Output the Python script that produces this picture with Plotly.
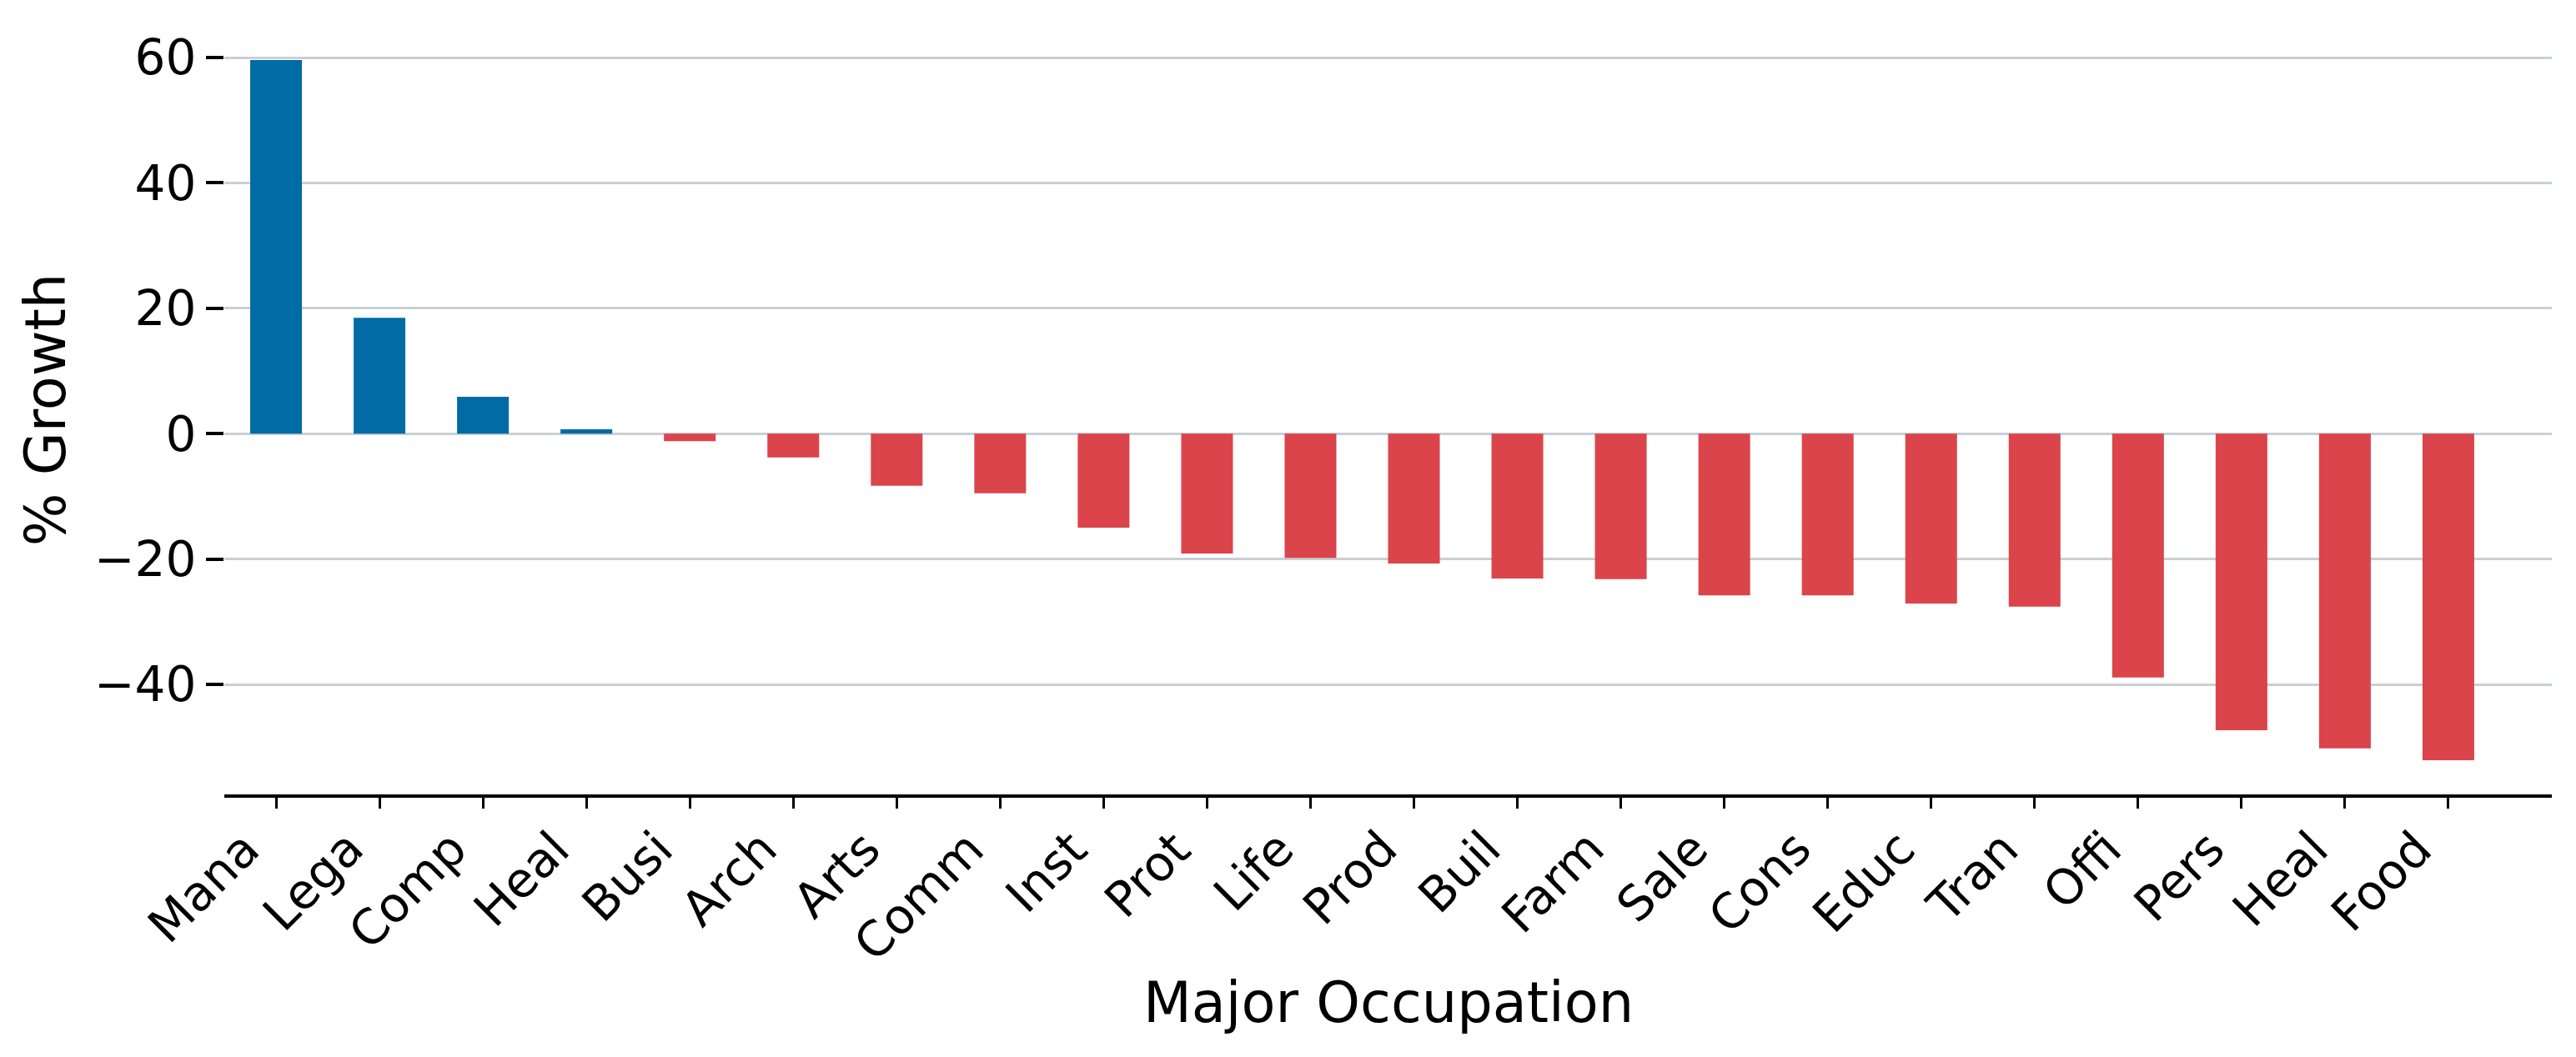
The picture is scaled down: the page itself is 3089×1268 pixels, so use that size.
import plotly.graph_objects as go

categories = ["Mana", "Lega", "Comp", "Heal", "Busi", "Arch", "Arts", "Comm", "Inst", "Prot", "Life",
              "Prod", "Buil", "Farm", "Sale", "Cons", "Educ", "Tran", "Offi", "Pers", "Heal", "Food"]
growth = [59.6, 18.5, 5.9, 0.7, -1.2, -3.8, -8.3, -9.5, -15.0, -19.1, -19.8,
          -20.7, -23.1, -23.2, -25.8, -25.8, -27.1, -27.6, -38.9, -47.3, -50.2, -52.1]
y_ticks = [-40, -20, 0, 20, 40, 60]

BLUE = "#006BA4"
RED = "#DB444B"
GRID = "#C8D0D5"
FONT = "DejaVu Sans"

positions = list(range(len(categories)))
colors = [BLUE if v >= 0 else RED for v in growth]

fig = go.Figure(go.Bar(
    x=positions, y=growth, width=0.5,
    marker=dict(color=colors, line=dict(width=0)),
))

annotations = []
for p, c in zip(positions, categories):
    annotations.append(dict(
        x=p, xref="x", y=0, yref="paper", text=c, showarrow=False,
        textangle=-45, xanchor="right", yanchor="top", yshift=-28, xshift=-4,
        font=dict(size=58, family=FONT, color="black"),
    ))
annotations.append(dict(
    x=0.5, xref="paper", y=0, yref="paper", text="Major Occupation", showarrow=False,
    xanchor="center", yanchor="middle", yshift=-250,
    font=dict(size=67, family=FONT, color="black"),
))

fig.update_layout(
    width=3089, height=1268, autosize=False,
    margin=dict(l=269, r=29, t=30, b=315, pad=0),
    plot_bgcolor="white", paper_bgcolor="white",
    font=dict(family=FONT, color="black"),
    showlegend=False,
    annotations=annotations,
)
fig.update_xaxes(
    range=[-0.5, 22],
    tickmode="array", tickvals=positions, showticklabels=False,
    ticks="outside", ticklen=13, tickwidth=3, tickcolor="black",
    showline=True, linewidth=4, linecolor="black",
    showgrid=False, zeroline=False,
)
fig.update_yaxes(
    range=[-57.55, 65.2],
    tickmode="array", tickvals=y_ticks,
    tickfont=dict(size=58, family=FONT),
    ticks="outside", ticklen=21, tickwidth=4, tickcolor="black",
    showline=False, showgrid=True, gridcolor=GRID, gridwidth=3,
    zeroline=False,
    title=dict(text="% Growth", font=dict(size=67, family=FONT), standoff=12),
)

fig.write_html("out.html", config={"displayModeBar": False},
               post_script="document.body.style.margin='0';")
